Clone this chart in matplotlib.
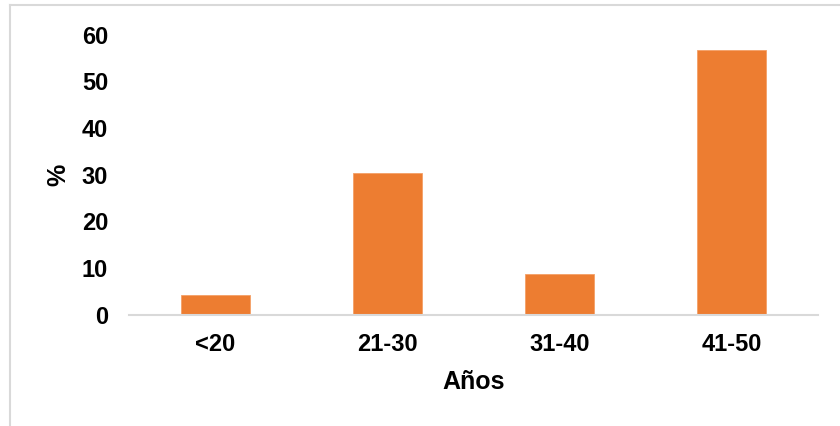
import matplotlib.pyplot as plt
from matplotlib.lines import Line2D

# age groups and share of respondents (%)
grupos = ['<20', '21-30', '31-40', '41-50']
porcentaje = [4.3, 30.4, 8.7, 56.6]
yticks = [0, 10, 20, 30, 40, 50, 60]

plt.rcParams['font.family'] = ['Liberation Sans', 'DejaVu Sans']
plt.rcParams['font.weight'] = 'bold'

fig = plt.figure(figsize=(8.4, 4.26), dpi=100)
ax = fig.add_axes([129 / 840, 1 - 315 / 426, 689 / 840, (315 - 34.5) / 426])

x = range(len(grupos))
ax.bar(x, porcentaje, width=0.4, color='#ED7D31', edgecolor='#F4A067', linewidth=0.6)

ax.set_xlim(-0.5, len(grupos) - 0.5)
ax.set_ylim(0, 60)
ax.set_yticks(yticks)
ax.set_xticks(list(x))
ax.set_xticklabels(grupos)

for s in ['top', 'right', 'left']:
    ax.spines[s].set_visible(False)
ax.spines['bottom'].set_color('#D9D9D9')
ax.spines['bottom'].set_linewidth(1.5)
ax.tick_params(axis='both', length=0, labelsize=17)
ax.tick_params(axis='y', pad=15)
ax.tick_params(axis='x', pad=13)

ax.set_xlabel('Años', fontsize=18, fontweight='bold', labelpad=10)
ax.set_ylabel('%', fontsize=18, fontweight='bold', labelpad=8)

# thin frame around the chart area (top and left only)
fig.add_artist(Line2D([10 / 840, 10 / 840], [0, 1 - 5 / 426], transform=fig.transFigure,
                      color='#D9D9D9', linewidth=1.5))
fig.add_artist(Line2D([10 / 840, 1], [1 - 5 / 426, 1 - 5 / 426], transform=fig.transFigure,
                      color='#D9D9D9', linewidth=1.5))

fig.savefig('out.png', dpi=100)
